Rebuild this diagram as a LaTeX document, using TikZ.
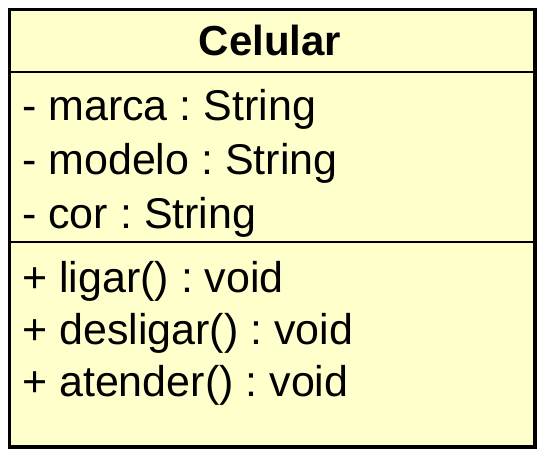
\documentclass[tikz,border=0pt]{standalone}
\usepackage{fontspec}
\setmainfont{Liberation Sans}
\usepackage{xcolor}
\usepackage{tikz}
\usetikzlibrary{positioning,calc}
\frenchspacing
\definecolor{umlyellow}{HTML}{FFFFCC}
\definecolor{umlline}{HTML}{000000}
\tikzset{
  classbox/.style={draw=umlline, line width=3.5pt, fill=umlyellow, inner sep=0pt},
  member/.style={anchor=base west, inner sep=0pt, font=\fontsize{43}{50}\selectfont},
  title/.style={anchor=base, inner sep=0pt, font=\fontsize{42}{50}\selectfont\bfseries},
  sep/.style={draw=umlline, line width=1.2pt}
}

\begin{document}
\begin{tikzpicture}[x=1pt, y=-1pt]
  \useasboundingbox (0,0) rectangle (541,453);
  \node[classbox, anchor=north west, minimum width=525.5pt, minimum height=437.5pt] (celular) at (7.5,7.5) {};

  \node[title] (nome) at (270,55) {Celular};

  \node[member] (marca) at (22,120) {- marca : String};
  \node[member] (modelo) at (22,174) {- modelo : String};
  \node[member] (cor) at (22,228) {- cor : String};

  \node[member] (ligar) at (22,292) {+ ligar() : void};
  \node[member] (desligar) at (22,344) {+ desligar() : void};
  \node[member] (atender) at (22,396) {+ atender() : void};

  \draw[sep] (celular.west |- 0,72) -- (celular.east |- 0,72);
  \draw[sep] (celular.west |- 0,242) -- (celular.east |- 0,242);
\end{tikzpicture}
\end{document}
